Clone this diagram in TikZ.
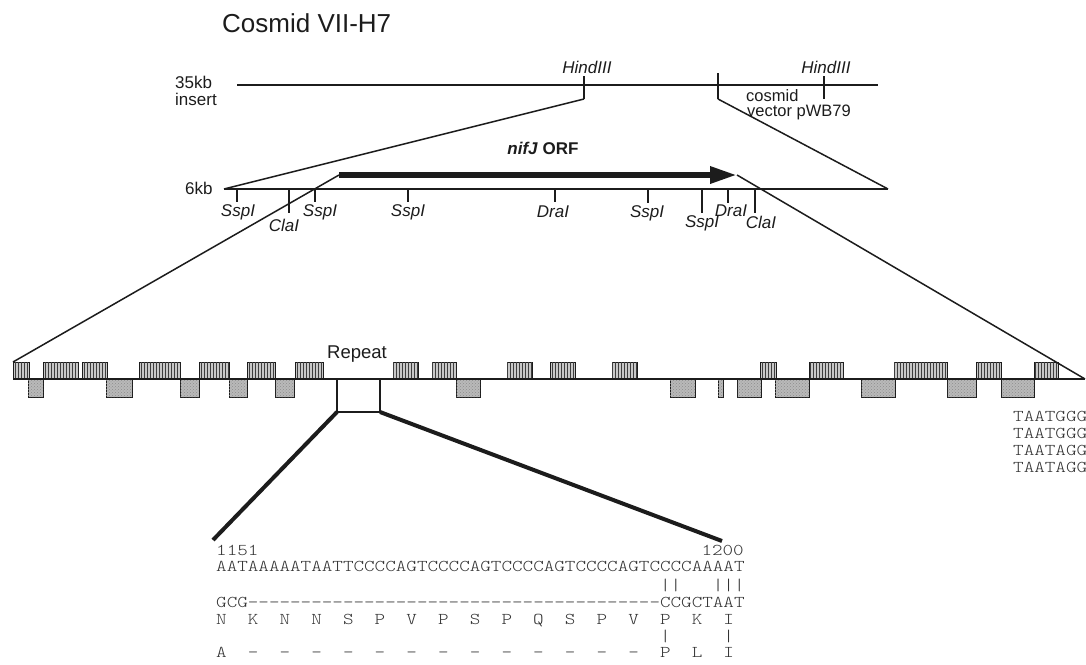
\documentclass[tikz,border=0pt]{standalone}
\usepackage{fontspec}
\setmainfont{Liberation Sans}
\newfontfamily\seqmono{lmmonolt10-regular.otf}[FakeStretch=1.22, Ligatures=TeXOff]
\usepackage{tikz}
\usetikzlibrary{arrows.meta, patterns, positioning}
\definecolor{mydark}{RGB}{28,28,28}
\definecolor{hatchgray}{RGB}{200,200,200}
\definecolor{dotgray}{RGB}{185,185,185}
\newcommand{\lblfont}{\fontsize{17}{17}\selectfont}
\newcommand{\seqfont}{\fontsize{16.5}{17}\seqmono}
\newcommand{\seqgap}[1]{\hspace*{#1\fontcharwd\font`A}}
\tikzset{
  dnaline/.style={line width=1.5pt, color=mydark},
  cutmark/.style={line width=1.3pt, color=mydark},
  orfarrow/.style={-{Triangle[length=27pt,width=16pt]}, line width=6pt, color=mydark},
  sitelbl/.style={font=\lblfont\itshape, inner sep=0pt, color=mydark},
  plainlbl/.style={font=\lblfont, inner sep=0pt, color=mydark},
  seqline/.style={font=\seqfont, inner sep=0pt, anchor=base west, color=black!80},
  exonup/.style={draw=mydark, line width=0.9pt, fill=hatchgray,
    postaction={pattern=vertical lines, pattern color=mydark!85}},
  exondown/.style={draw=mydark, line width=0.9pt, fill=dotgray,
    postaction={pattern=crosshatch dots, pattern color=black!45}},
  repeatbox/.style={draw=mydark, line width=2.5pt},
  repeatlink/.style={line width=4pt, color=mydark}
}
\begin{document}
\begin{tikzpicture}[x=1pt, y=-1pt]
  \useasboundingbox (0,0) rectangle (1086,664);
  % ── cosmid (top) ─────────────────────────────────────────────────────────
  \node[font=\fontsize{26}{30}\selectfont, inner sep=0pt, anchor=base west, color=mydark]
    (title) at (222,32) {Cosmid VII-H7};
  \node[plainlbl, anchor=base west] (sizelbl) at (175,88) {35kb};
  \node[plainlbl, anchor=base west] (insertlbl) at (175,105) {insert};
  \coordinate (cosL) at (237,85);
  \coordinate (cosR) at (878,85);
  \draw[dnaline] (cosL) -- (cosR);
  \coordinate (hind1) at (584,99);
  \coordinate (vecend) at (718,99);
  \draw[cutmark] (584,76) -- (hind1);
  \draw[cutmark] (718,73) -- (vecend);
  \draw[cutmark] (824,76) -- (824,99);
  \node[sitelbl, anchor=base] (hindlbl1) at (587,73) {HindIII};
  \node[sitelbl, anchor=base] (hindlbl2) at (826,73) {HindIII};
  \node[plainlbl, font=\fontsize{16.5}{17}\selectfont, anchor=base west]
    (cosmidlbl) at (746,101) {cosmid};
  \node[plainlbl, font=\fontsize{16.5}{17}\selectfont, anchor=base west]
    (vectorlbl) at (747,116) {vector pWB79};
  % ── 6kb fragment ─────────────────────────────────────────────────────────
  \node[plainlbl, anchor=base west] (kblbl) at (185,194) {6kb};
  \coordinate (fragL) at (224,189);
  \coordinate (fragR) at (888,189);
  \draw[dnaline] (fragL) -- (fragR);
  \draw[dnaline] (hind1) -- (fragL);
  \draw[dnaline] (vecend) -- (fragR);
  % restriction sites
  \foreach \x/\yb in {237/202, 289/213, 315/202, 408/202, 555/202,
                      648/203, 702/213, 728/203, 755/213}
    \draw[cutmark] (\x,189) -- (\x,\yb);
  \foreach \x/\y/\t [count=\i] in {238/212/SspI, 284/225/ClaI, 320/212/SspI,
      408/212/SspI, 553/212/DraI, 647/213/SspI, 702/223/SspI,
      731/211/DraI, 761/222/ClaI}
    \node[sitelbl] (site\i) at (\x,\y) {\t};
  % nifJ open reading frame
  \coordinate (orfstart) at (339,175);
  \coordinate (orftip) at (737,175);
  \draw[orfarrow] (orfstart) -- (orftip);
  \node[font=\lblfont\bfseries, inner sep=0pt, anchor=base, color=mydark]
    (orflbl) at (543,154) {\textit{nifJ} ORF};
  % ── repeat map ───────────────────────────────────────────────────────────
  \coordinate (barL) at (13,379);
  \coordinate (barR) at (1085,379);
  \foreach \a/\b in {13/29, 43/78, 82/107, 139/180, 199/229, 247/275, 295/323,
      393/418, 432/456, 507/532, 550/575, 612/637, 760/776, 809/843,
      894/947, 976/1001, 1034/1058}
    \draw[exonup] (\a,362) rectangle (\b,379);
  \foreach \a/\b in {28/43, 106/132, 180/199, 229/247, 275/294, 456/480,
      670/695, 718/723, 737/761, 775/809, 861/895, 947/976, 1001/1034}
    \draw[exondown] (\a,379) rectangle (\b,397);
  \draw[dnaline] (barL) -- (barR);
  \draw[dnaline] (orfstart) -- (13,362);
  \draw[dnaline] (orftip) -- (barR);
  \node[font=\fontsize{18.5}{19}\selectfont, inner sep=0pt, anchor=base, color=mydark]
    (repeatlbl) at (357,358) {Repeat};
  \draw[repeatbox] (337,379) rectangle (380,412);
  \coordinate (seqL) at (213,540);
  \coordinate (seqR) at (722,541);
  \draw[repeatlink] (337,412) -- (seqL);
  \draw[repeatlink] (380,412) -- (seqR);
  % stop codons
  \foreach \t/\y [count=\i] in {TAATGGG/421, TAATGGG/438, TAATAGG/455, TAATAGG/472}
    \node[seqline] (stop\i) at (1013,\y) {\t};
  % ── sequence alignment ───────────────────────────────────────────────────
  \node[seqline] (posA) at (216,555) {1151};
  \node[seqline, anchor=base east] (posB) at (744,555) {1200};
  \node[seqline] (dnaseq) at (216,571)
    {AATAAAAATAATTCCCCAGTCCCCAGTCCCCAGTCCCCAGTCCCCAAAAT};
  \node[seqline] (dnamatch) at (216,590) {\seqgap{42}||\seqgap{3}|||};
  \node[seqline] (dnaref) at (216,607)
    {GCG---------------------------------------CCGCTAAT};
  \node[seqline] (protseq) at (216,624)
    {N~~K~~N~~N~~S~~P~~V~~P~~S~~P~~Q~~S~~P~~V~~P~~K~~I};
  \node[seqline] (protmatch) at (216,641) {\seqgap{42}|\seqgap{5}|};
  \node[seqline] (protref) at (216,657)
    {A~~-~~-~~-~~-~~-~~-~~-~~-~~-~~-~~-~~-~~-~~P~~L~~I};
\end{tikzpicture}
\end{document}
